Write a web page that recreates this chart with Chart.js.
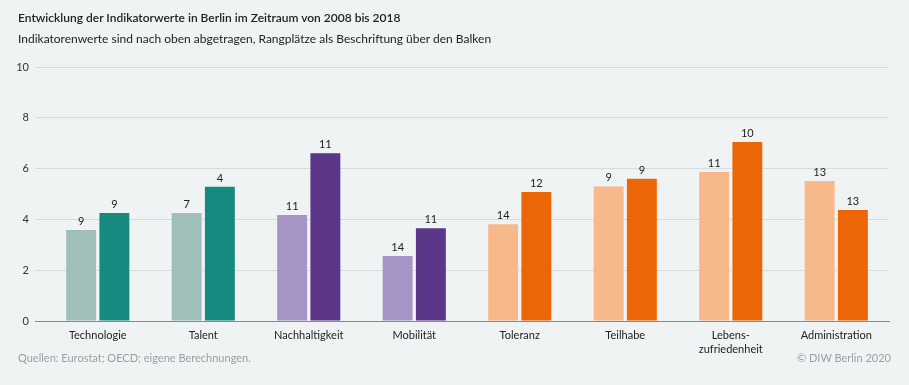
<!DOCTYPE html>
<html lang="de">
<head>
<meta charset="utf-8">
<script src="https://cdn.jsdelivr.net/npm/chart.js@4"></script>
<style>
  html, body { margin: 0; padding: 0; background: #eff3f4; }
  body { width: 909px; height: 385px; position: relative; overflow: hidden; font-family: Lato, sans-serif; color: #222; }
  #chart { position: absolute; left: 0; top: 0; width: 909px; height: 385px; }
  .titel { position: absolute; left: 18px; top: 10px; font-size: 12px; font-weight: 600; }
  .untertitel { position: absolute; left: 18px; top: 31px; font-size: 12px; }
  .quelle { position: absolute; left: 18px; top: 351px; font-size: 11px; color: #9a9fa3; }
  .copy { position: absolute; right: 18px; top: 351px; font-size: 11px; color: #9a9fa3; }
</style>
</head>
<body>
<canvas id="chart" width="909" height="385"></canvas>
<div class="titel">Entwicklung der Indikatorwerte in Berlin im Zeitraum von 2008 bis 2018</div>
<div class="untertitel">Indikatorenwerte sind nach oben abgetragen, Rangplätze als Beschriftung über den Balken</div>
<div class="quelle">Quellen: Eurostat; OECD; eigene Berechnungen.</div>
<div class="copy">© DIW Berlin 2020</div>
<script>
// Daten
const kategorien = ['Technologie', 'Talent', 'Nachhaltigkeit', 'Mobilität', 'Toleranz', 'Teilhabe', ['Lebens-', 'zufriedenheit'], 'Administration'];
const werte2008 = [3.58, 4.25, 4.17, 2.56, 3.81, 5.3, 5.87, 5.51];
const werte2018 = [4.25, 5.29, 6.6, 3.65, 5.08, 5.6, 7.05, 4.37];
const rang2008 = [9, 7, 11, 14, 14, 9, 11, 13];
const rang2018 = [9, 4, 11, 11, 12, 9, 10, 13];
const yTicks = [0, 2, 4, 6, 8, 10];

// Farben je Gruppe
const hell = ['#a0bfbb', '#a0bfbb', '#a794c7', '#a794c7', '#f8b98a', '#f8b98a', '#f8b98a', '#f8b98a'];
const dunkel = ['#178a80', '#178a80', '#5b3689', '#5b3689', '#ec6608', '#ec6608', '#ec6608', '#ec6608'];

// Rangplätze über die Balken schreiben
const rangLabels = {
    id: 'rangLabels',
    afterDatasetsDraw(chart) {
        const ctx = chart.ctx;
        ctx.save();
        ctx.font = "11px Lato, sans-serif";
        ctx.fillStyle = '#222';
        ctx.textAlign = 'center';
        ctx.textBaseline = 'bottom';
        chart.data.datasets.forEach((ds, i) => {
            chart.getDatasetMeta(i).data.forEach((bar, j) => {
                ctx.fillText(ds.rang[j], bar.x, bar.y - 3);
            });
        });
        ctx.restore();
    }
};

new Chart(document.getElementById('chart'), {
    type: 'bar',
    data: {
        labels: kategorien,
        datasets: [
            { label: '2008', data: werte2008, rang: rang2008, backgroundColor: hell },
            { label: '2018', data: werte2018, rang: rang2018, backgroundColor: dunkel }
        ]
    },
    options: {
        responsive: false,
        animation: false,
        layout: { padding: { top: 67, right: 20, bottom: 24, left: 0 } },
        datasets: { bar: { categoryPercentage: 0.63, barPercentage: 0.9 } },
        plugins: { legend: { display: false }, tooltip: { enabled: false } },
        scales: {
            x: {
                afterFit: (s) => { s.height = 40; },
                grid: { display: false },
                border: { color: '#888', width: 1 },
                ticks: { color: '#222', padding: 0, font: { family: 'Lato', size: 11, lineHeight: 1.25 }, maxRotation: 0, autoSkip: false }
            },
            y: {
                min: 0, max: 10,
                afterFit: (s) => { s.width = 45; },
                afterBuildTicks: (s) => { s.ticks = yTicks.map(v => ({ value: v })); },
                border: { display: false },
                grid: {
                    color: (c) => c.tick && c.tick.value === 0 ? '#888' : '#d6dcde',
                    tickLength: 10,
                    lineWidth: 1
                },
                ticks: { color: '#333', padding: 6, font: { family: 'Lato', size: 11 } }
            }
        }
    },
    plugins: [rangLabels]
});
</script>
</body>
</html>
